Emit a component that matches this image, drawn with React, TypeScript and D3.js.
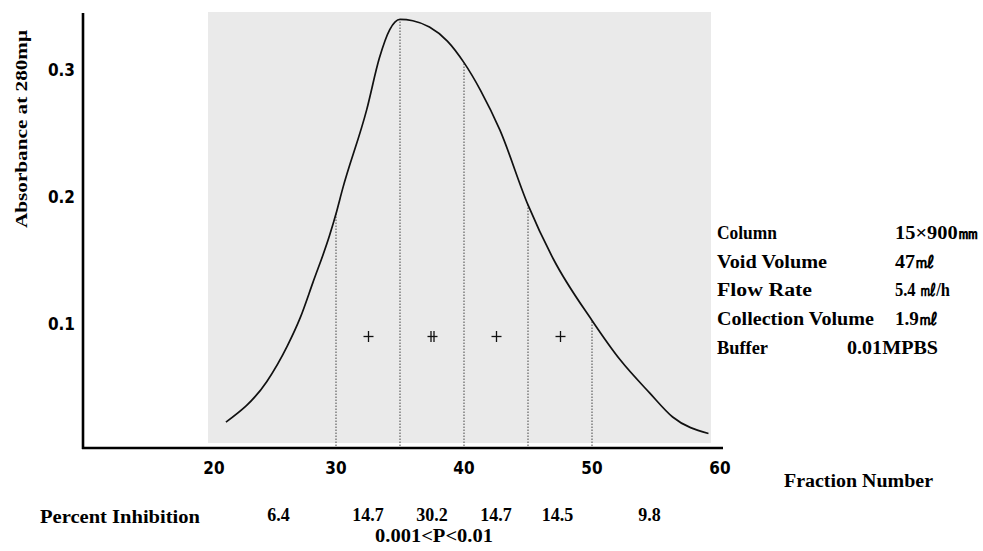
import { useEffect, useRef } from "react"
import * as d3 from "d3"

// elution profile (fraction number, absorbance at 280 mμ)
const fractions = [21.4, 24.6, 26.2, 27.2, 28.2, 29.5, 30, 30.5, 32.4, 33.4, 34.2, 35, 36, 37.3, 38.7, 40, 41.3, 42.8, 45, 47, 50, 52.2, 54.5, 56.3, 59.1]
const absorbance = [0.022, 0.054, 0.082, 0.104, 0.132, 0.169, 0.186, 0.205, 0.268, 0.309, 0.331, 0.339, 0.338, 0.333, 0.322, 0.305, 0.283, 0.252, 0.193, 0.150, 0.102, 0.071, 0.045, 0.026, 0.013]

// pooled fractions (dotted dividers)
const dividers = [30, 35, 40, 45, 50]

// activity marks between the dividers
const markAt = [32.5, 37.5, 42.5, 47.5]
const markBars = [1, 2, 1, 1]
const markLevel = 0.09

// percent inhibition row
const inhibitionAt = [25.5, 32.5, 37.5, 42.5, 47.3, 54.5]
const inhibition = ["6.4", "14.7", "30.2", "14.7", "14.5", "9.8"]

const xTicks = [20, 30, 40, 50, 60]
const yTicks = [0.1, 0.2, 0.3]

const conditions = ["Column", "Void Volume", "Flow Rate", "Collection Volume", "Buffer"]
const conditionValues = ["15×900㎜", "47㎖", "5.4 ㎖/h", "1.9㎖", "0.01MPBS"]

export default function App() {
    const ref = useRef<SVGSVGElement>(null)

    useEffect(() => {
        const svg = d3.select(ref.current)
        svg.selectAll("*").remove()

        const x = d3.scaleLinear().domain([20, 60]).range([208, 720])
        const y = d3.scaleLinear().domain([0, 0.3]).range([450, 69])

        const serif = "'Liberation Serif', 'DejaVu Serif', serif"
        const sans = "'DejaVu Sans Condensed', 'Liberation Sans Narrow', 'Liberation Sans', sans-serif"

        // grey scan patch behind the plot
        svg.append("rect")
            .attr("x", 208).attr("y", 12)
            .attr("width", 503).attr("height", 431)
            .attr("fill", "#eaeaea")

        // dotted dividers up to the curve
        const interp = (f: number) => {
            const i = d3.bisectLeft(fractions, f)
            if (fractions[i] === f) return absorbance[i]
            const t = (f - fractions[i - 1]) / (fractions[i] - fractions[i - 1])
            return absorbance[i - 1] + t * (absorbance[i] - absorbance[i - 1])
        }
        svg.append("g").selectAll("line")
            .data(dividers)
            .join("line")
            .attr("x1", d => x(d)).attr("x2", d => x(d))
            .attr("y1", 446).attr("y2", d => y(interp(d)))
            .attr("stroke", "#444")
            .attr("stroke-width", 1)
            .attr("stroke-dasharray", "1.5,1.5")

        // elution curve
        const line = d3.line<number>()
            .x((d, i) => x(fractions[i]))
            .y(d => y(d))
            .curve(d3.curveMonotoneX)
        svg.append("path")
            .datum(absorbance)
            .attr("d", line)
            .attr("fill", "none")
            .attr("stroke", "#111")
            .attr("stroke-width", 1.7)

        // + / ++ marks
        const marks = svg.append("g").attr("stroke", "#111").attr("stroke-width", 1.3)
        markAt.forEach((f, i) => {
            const cx = Math.round(x(f)) + 0.5, cy = Math.round(y(markLevel)) + 0.5
            marks.append("line").attr("x1", cx - 5).attr("x2", cx + 5).attr("y1", cy).attr("y2", cy)
            const n = markBars[i]
            for (let k = 0; k < n; k++) {
                const dx = (k - (n - 1) / 2) * 3
                marks.append("line").attr("x1", cx + dx).attr("x2", cx + dx).attr("y1", cy - 5.5).attr("y2", cy + 5.5)
            }
        })

        // axes
        svg.append("line").attr("x1", 83).attr("x2", 83).attr("y1", 13).attr("y2", 449)
            .attr("stroke", "#000").attr("stroke-width", 2.6)
        svg.append("line").attr("x1", 82).attr("x2", 723).attr("y1", 448).attr("y2", 448)
            .attr("stroke", "#000").attr("stroke-width", 2.6)

        svg.append("g").selectAll("text")
            .data(yTicks)
            .join("text")
            .attr("x", 75).attr("y", d => y(d) + 7)
            .attr("text-anchor", "end")
            .style("font-family", sans).style("font-weight", "bold").style("font-size", "17px")
            .text(d => d.toFixed(1))

        svg.append("g").selectAll("text")
            .data(xTicks)
            .join("text")
            .attr("x", d => x(d) + (d === 20 ? 6 : 0)).attr("y", 474)
            .attr("text-anchor", "middle")
            .style("font-family", sans).style("font-weight", "bold").style("font-size", "17px")
            .text(d => d)

        // axis titles
        svg.append("text")
            .attr("transform", "translate(27,129) rotate(-90)")
            .attr("text-anchor", "middle")
            .attr("textLength", 198).attr("lengthAdjust", "spacingAndGlyphs")
            .style("font-family", serif).style("font-weight", "bold").style("font-size", "17px")
            .text("Absorbance at 280mμ")

        svg.append("text")
            .attr("x", 784).attr("y", 487)
            .attr("textLength", 149).attr("lengthAdjust", "spacingAndGlyphs")
            .style("font-family", serif).style("font-weight", "bold").style("font-size", "18px")
            .text("Fraction Number")

        // percent inhibition row
        svg.append("text")
            .attr("x", 40).attr("y", 523)
            .attr("textLength", 160).attr("lengthAdjust", "spacingAndGlyphs")
            .style("font-family", serif).style("font-weight", "bold").style("font-size", "18px")
            .text("Percent Inhibition")

        svg.append("g").selectAll("text")
            .data(inhibition)
            .join("text")
            .attr("x", (d, i) => x(inhibitionAt[i])).attr("y", 521)
            .attr("text-anchor", "middle")
            .style("font-family", serif).style("font-weight", "bold").style("font-size", "18px")
            .text(d => d)

        svg.append("text")
            .attr("x", 375).attr("y", 542)
            .attr("textLength", 118).attr("lengthAdjust", "spacingAndGlyphs")
            .style("font-family", serif).style("font-weight", "bold").style("font-size", "18px")
            .text("0.001<P<0.01")

        // run conditions
        const labelW = [60, 110, 95, 157, 51]
        const valueW = [83, 40, 55, 43, 91]
        const rows = svg.append("g")
            .style("font-family", serif).style("font-weight", "bold").style("font-size", "18px")
        conditions.forEach((c, i) => {
            const by = 239 + i * 28.7
            rows.append("text").attr("x", 717).attr("y", by)
                .attr("textLength", labelW[i]).attr("lengthAdjust", "spacingAndGlyphs")
                .text(c)
            rows.append("text").attr("x", i === 4 ? 847 : 895).attr("y", by)
                .attr("textLength", valueW[i]).attr("lengthAdjust", "spacingAndGlyphs")
                .text(conditionValues[i])
        })
    }, [])

    return (
        <svg ref={ref} width={983} height={551}
            style={{ position: "absolute", left: 0, top: 0, background: "#fff" }} />
    )
}
